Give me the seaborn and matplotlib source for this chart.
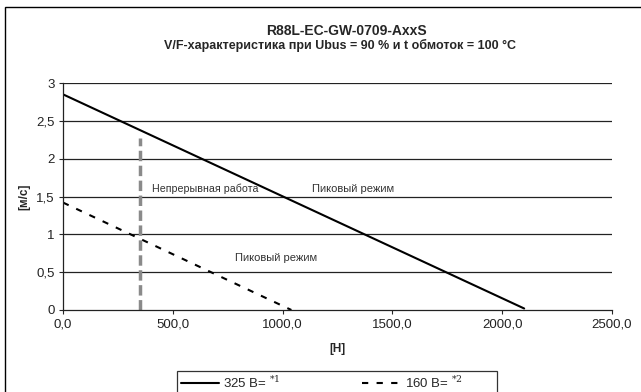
import numpy as np
import pandas as pd
import matplotlib
matplotlib.use("Agg")
import matplotlib.pyplot as plt
import seaborn as sns
from matplotlib.patches import Rectangle
from matplotlib.ticker import FuncFormatter

# ======== DATA ========
force_325 = [0.0, 2100.0]
speed_325 = [2.85, 0.02]
force_160 = [0.0, 1040.0]
speed_160 = [1.42, 0.0]
limit_force = [351.0, 351.0]
limit_speed = [0.0, 2.27]

title = "R88L-EC-GW-0709-AxxS"
subtitle = "V/F-характеристика при Ubus = 90 % и t обмоток = 100 °C"
label_325 = "325 В= $^{*1}$"
label_160 = "160 В= $^{*2}$"

df = pd.concat([
    pd.DataFrame({"force": force_325, "speed": speed_325, "series": label_325}),
    pd.DataFrame({"force": force_160, "speed": speed_160, "series": label_160}),
])

# ======== STYLE ========
sns.set_style("white")
plt.rcParams["font.family"] = ["Liberation Sans", "DejaVu Sans"]
plt.rcParams["mathtext.fontset"] = "dejavuserif"

W, H = 641, 392
fig = plt.figure(figsize=(W / 100, H / 100), dpi=100)
fig.patches.append(Rectangle((5 / W, -0.05), 1.1, 1 - 7 / H + 0.05, transform=fig.transFigure,
                             fill=False, edgecolor="black", linewidth=1.0))
ax = fig.add_axes([63 / W, 1 - 310 / H, (612 - 63) / W, (310 - 83) / H])

# grid
for yv in np.arange(0.5, 3.01, 0.5):
    ax.axhline(yv, color="#222222", linewidth=0.9, zorder=0)

sns.lineplot(data=df, x="force", y="speed", hue="series", style="series",
             palette=["black", "black"], dashes=[(None, None), (3, 4)],
             linewidth=1.5, legend=False, ax=ax, sort=False, estimator=None)
sns.lineplot(x=limit_force, y=limit_speed, color="#8a8a8a", linewidth=2.5,
             ax=ax, legend=False, estimator=None, sort=False)
ax.lines[-1].set_dashes((3, 1.3))

ax.text(405, 1.53, "Непрерывная работа", fontsize=7.7, color="#333333",
        ha="left", va="bottom")
ax.text(1134, 1.53, "Пиковый режим", fontsize=8, color="#333333",
        ha="left", va="bottom")
ax.text(968, 0.69, "Пиковый режим", fontsize=8, color="#333333",
        ha="center", va="center")

ax.set_xlim(0, 2500)
ax.set_ylim(0, 3)
ax.set_xticks(np.arange(0, 2501, 500))
ax.set_yticks(np.arange(0, 3.01, 0.5))
ax.xaxis.set_major_formatter(FuncFormatter(lambda v, p: f"{v:.1f}".replace(".", ",")))
ax.yaxis.set_major_formatter(FuncFormatter(lambda v, p: f"{v:g}".replace(".", ",")))
ax.tick_params(axis="both", labelsize=9.5, direction="out", length=3, width=0.8,
               bottom=True, left=True, pad=3, labelcolor="#222222")
for s in ["top", "right"]:
    ax.spines[s].set_visible(False)
for s in ["left", "bottom"]:
    ax.spines[s].set_color("#222222")
    ax.spines[s].set_linewidth(0.9)

ax.set_xlabel("[Н]", fontsize=8.5, fontweight="bold", labelpad=9)
ax.set_ylabel("[м/с]", fontsize=8.5, fontweight="bold", labelpad=4)

fig.text(346 / W, 1 - 31 / H, title, ha="center", va="center", fontsize=10, fontweight="bold")
fig.text(340 / W, 1 - 45 / H, subtitle, ha="center", va="center", fontsize=9, fontweight="bold")

handles = [plt.Line2D([], [], color="black", linewidth=1.5),
           plt.Line2D([], [], color="black", linewidth=1.5, dashes=(3, 4))]
leg = fig.legend(handles, [label_325, label_160 + "         "], loc="upper left", ncol=2,
                 bbox_to_anchor=(177 / W, 1 - 371 / H), borderaxespad=0, fontsize=9.5,
                 frameon=True, fancybox=False, edgecolor="black", handlelength=2.9,
                 columnspacing=6.2, borderpad=0.3, handletextpad=0.3)
leg.get_frame().set_linewidth(0.9)

plt.savefig("out.png", dpi=100)
plt.close()
